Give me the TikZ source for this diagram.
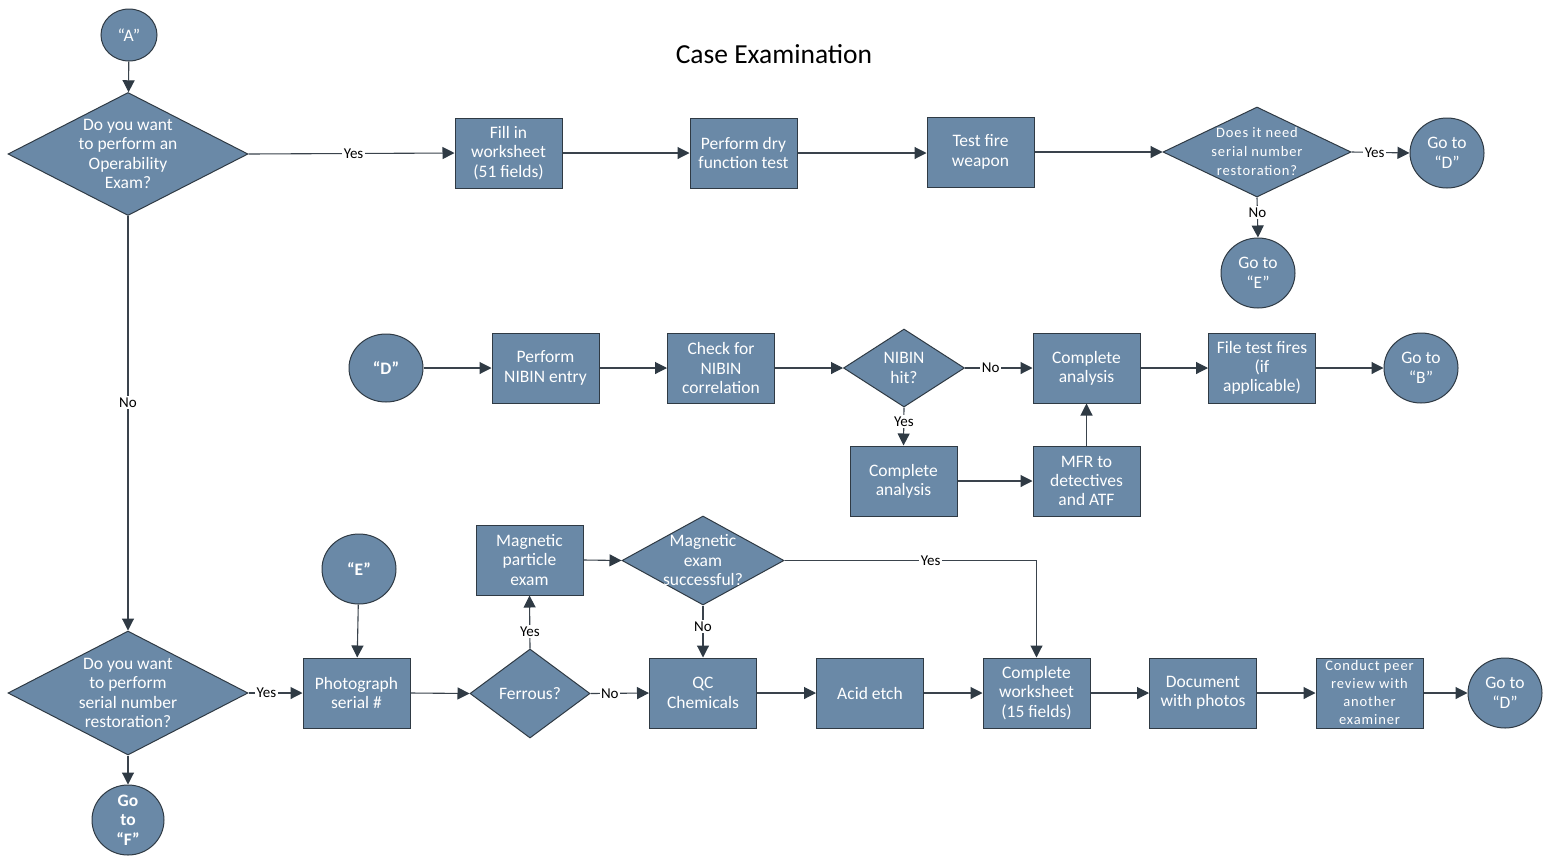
\documentclass[tikz,border=0pt]{standalone}
\usepackage{fontspec}
\setmainfont{Carlito}
\newfontfamily\spacedfont[LetterSpace=6]{Carlito}
\usetikzlibrary{shapes.geometric,arrows.meta}
\definecolor{fillc}{HTML}{6A89A7}
\definecolor{edgec}{HTML}{2F3A44}
\definecolor{linec}{HTML}{3A434C}
\tikzset{
  proc/.style={rectangle, draw=edgec, line width=1pt, fill=fillc, minimum width=107pt, minimum height=70pt, text=white, align=center, font=\fontsize{17.5}{19.3}\selectfont, inner sep=1pt},
  dec/.style={diamond, draw=edgec, line width=1pt, fill=fillc, inner sep=0pt},
  term/.style={ellipse, draw=edgec, line width=1pt, fill=fillc, inner sep=0pt, minimum width=74pt, minimum height=70pt},
  txt/.style={text=white, align=center, font=\fontsize{17.5}{19.5}\selectfont},
  stxt/.style={text=white, align=center, font=\spacedfont\fontsize{14.5}{19}\selectfont},
  flow/.style={draw=linec, line width=1.1pt, -{Triangle[length=12pt,width=12pt,color=edgec]}},
  lab/.style={fill=white, inner sep=1.5pt, text=black, font=\fontsize{15}{16}\selectfont},
}
\begin{document}
\begin{tikzpicture}[x=1pt,y=-1pt]
\useasboundingbox[fill=white] (0,0) rectangle (1551,855);
\node[font=\fontsize{27.5}{30}\selectfont] (title) at (774,54) {Case Examination};
% top row
\node[term, minimum width=56pt, minimum height=52pt, label={[txt]center:{“A”}}] (A) at (129,35) {};
\node[dec, minimum width=240pt, minimum height=123pt, label={[txt]center:{Do you want\\to perform an\\Operability\\Exam?}}] (d1) at (128,154) {};
\node[proc] (fill) at (508.5,153) {Fill in\\worksheet\\(51 fields)};
\node[proc] (dry) at (743.5,153) {Perform dry\\function test};
\node[proc] (test) at (980.5,152) {Test fire\\weapon};
\node[dec, minimum width=188pt, minimum height=90pt, label={[stxt]center:{Does it need\\serial number\\restoration?}}] (d2) at (1257,152) {};
\node[term, label={[txt]center:{Go to\\“D”}}] (goD1) at (1447,153) {};
\node[term, label={[txt]center:{Go to\\“E”}}] (goE) at (1258,273) {};
% middle row
\node[term, minimum width=74pt, minimum height=68pt, label={[txt]center:{\bfseries “D”}}] (D) at (386,368) {};
\node[proc] (nibe) at (545.5,368) {Perform\\NIBIN entry};
\node[proc] (corr) at (721,368) {Check for\\NIBIN\\correlation};
\node[dec, minimum width=121pt, minimum height=78pt, label={[txt]center:{NIBIN\\hit?}}] (hit) at (904,368) {};
\node[proc] (ca1) at (1086.5,368) {Complete\\analysis};
\node[proc] (file) at (1262,368) {File test fires\\(if\\applicable)};
\node[term, label={[txt]center:{Go to\\“B”}}] (goB) at (1421,368) {};
\node[proc] (ca2) at (903.5,481) {Complete\\analysis};
\node[proc] (mfr) at (1086.5,481) {MFR to\\detectives\\and ATF};
% bottom row
\node[dec, minimum width=240pt, minimum height=124pt, label={[txt]center:{Do you want\\to perform\\serial number\\restoration?}}] (d3) at (128,693) {};
\node[term, minimum width=72pt, label={[txt]center:{\bfseries Go\\\bfseries to\\\bfseries “F”}}] (goF) at (128,820) {};
\node[term, label={[txt]center:{\bfseries “E”}}] (E) at (359,569) {};
\node[proc] (photo) at (356.5,693) {Photograph\\serial \#};
\node[dec, minimum width=120pt, minimum height=89pt, label={[txt]center:{Ferrous?}}] (fer) at (530,693.5) {};
\node[proc] (mag) at (529.5,560) {Magnetic\\particle\\exam};
\node[dec, minimum width=162pt, minimum height=89pt, label={[txt]center:{Magnetic\\exam\\successful?}}] (magd) at (703,560.5) {};
\node[proc] (qc) at (703,693) {QC\\Chemicals};
\node[proc] (acid) at (870,693) {Acid etch};
\node[proc] (cw) at (1036.5,693) {Complete\\worksheet\\(15 fields)};
\node[proc] (doc) at (1203,693) {Document\\with photos};
\node[proc, font=\spacedfont\fontsize{14.5}{18}\selectfont, inner sep=0pt] (peer) at (1369.5,693) {Conduct peer\\review with\\another\\examiner};
\node[term, label={[txt]center:{Go to\\“D”}}] (goD2) at (1505,693) {};
% connectors
\draw[flow] (A) -- (d1);
\draw[flow] (d1.east) -- node[lab, pos=0.51] {Yes} (fill.west);
\draw[flow] (fill) -- (dry);
\draw[flow] (dry.east) -- (dry.east -| test.west);
\draw[flow] (test.east) -- (d2.west);
\draw[flow] (d2.east) -- node[lab, pos=0.4] {Yes} (goD1.west);
\draw[flow] (d2.south) -- node[lab, pos=0.37] {No} (goE.north);
\draw[flow] (d1.south) -- node[lab, pos=0.45] {No} (d3.north);
\draw[flow] (D) -- (nibe);
\draw[flow] (nibe) -- (corr);
\draw[flow] (corr) -- (hit);
\draw[flow] (hit.east) -- node[lab, pos=0.38] {No} (ca1.west);
\draw[flow] (hit.south) -- node[lab, pos=0.37] {Yes} (ca2.north);
\draw[flow] (ca2) -- (mfr);
\draw[flow] (mfr) -- (ca1);
\draw[flow] (ca1) -- (file);
\draw[flow] (file) -- (goB);
\draw[flow] (d3.east) -- node[lab, pos=0.33] {Yes} (photo.west);
\draw[flow] (d3.south) -- (goF.north);
\draw[flow] (E) -- (photo);
\draw[flow] (photo.east) -- (fer.west);
\draw[flow] (fer.north) -- node[lab, pos=0.32] {Yes} (mag.south);
\draw[flow] (mag.east) -- (magd.west);
\draw[flow] (magd.east) -| node[lab, pos=0.29] {Yes} (cw.north);
\draw[flow] (magd.south) -- node[lab, pos=0.4] {No} (qc.north);
\draw[flow] (fer.east) -- node[lab, pos=0.33] {No} (qc.west);
\draw[flow] (qc) -- (acid);
\draw[flow] (acid) -- (cw);
\draw[flow] (cw) -- (doc);
\draw[flow] (doc) -- (peer);
\draw[flow] (peer) -- (goD2);
\end{tikzpicture}
\end{document}
